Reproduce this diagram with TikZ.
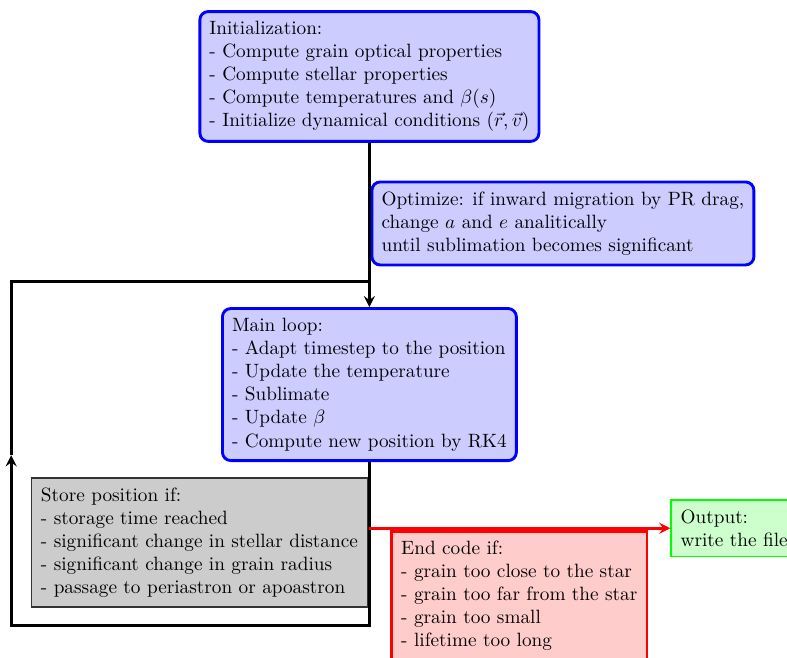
\documentclass[tikz,border=0pt]{standalone}
\usepackage{amsmath}
\usepackage{amssymb,amsfonts}
\usepackage{tikz}
\usetikzlibrary{positioning}
\usetikzlibrary{calc}
\tikzset{stepbox/.style={draw=blue,fill=blue!20,line width=1.5pt,rounded corners=1ex,align=left,inner sep=5pt},
storebox/.style={draw=black!80,fill=black!20,line width=0.8pt,align=left,inner sep=5pt},
endbox/.style={draw=red,fill=red!20,line width=1.5pt,align=left,inner sep=5pt},
outbox/.style={draw=green,fill=green!20,line width=0.8pt,align=left,inner sep=5pt},
flow/.style={line width=1.5pt}}

\begin{document}
\begin{tikzpicture}
\clip (0,0) rectangle (14.37cm,-12.0cm);
\node (init) [stepbox, anchor=north] at (6.745cm,-0.185cm) {Initialization:\\- Compute grain optical properties\\- Compute stellar properties\\- Compute temperatures and $\beta(s)$\\- Initialize dynamical conditions $(\vec{r},\vec{v})$};
\node (opt) [stepbox, anchor=west] at (6.765cm,-4.08cm) {Optimize: if inward migration by PR drag,\\change $a$ and $e$ analitically\\until sublimation becomes significant};
\node (main) [stepbox, anchor=north] at (6.745cm,-5.607cm) {Main loop:\\- Adapt timestep to the position\\- Update the temperature\\- Sublimate\\- Update $\beta$\\- Compute new position by RK4};

\node (store) [storebox, anchor=north east] at (6.724cm,-8.713cm) {Store position if:\\- storage time reached\\- significant change in stellar distance\\- significant change in grain radius\\- passage to periastron or apoastron};
\node (end) [endbox, anchor=north west] at (7.124cm,-9.676cm) {End code if:\\- grain too close to the star\\- grain too far from the star\\- grain too small\\- lifetime too long};
\node (out) [outbox, anchor=west] at (12.239cm,-9.645cm) {Output:\\write the file};

\coordinate (lt) at (0.205cm,-5.135cm);
\coordinate (lm) at (0.205cm,-8.313cm);
\coordinate (lb) at (0.205cm,-11.419cm);
\coordinate (rs) at (main.south |- out.west);

\draw [flow,-stealth] (init.south) -- (main.north);
\draw [flow,-stealth] (main.south) |- (lb) -- (lm);
\draw [flow] (lm) -- (lt) -- (lt -| main.north);
\draw [flow,red,-stealth] (rs) -- (out.west);
\end{tikzpicture}
\end{document}
